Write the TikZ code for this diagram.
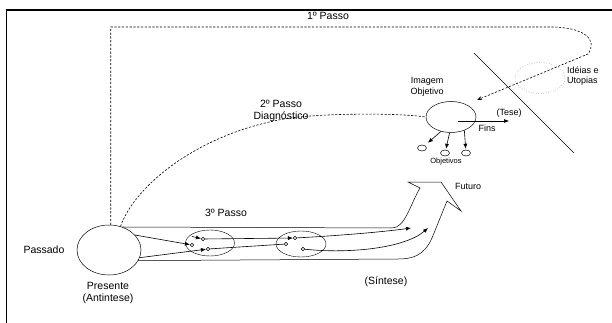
\documentclass[tikz,border=0pt]{standalone}
\usepackage{fontspec}
\setmainfont{Liberation Sans}
\usetikzlibrary{arrows.meta, shapes.geometric, positioning}

\begin{document}
\begin{tikzpicture}[
  x=1pt, y=-1pt, >=stealth,
  edgeline/.style={line width=1.6pt},
  passo/.style={draw, dash pattern=on 2.2pt off 1.6pt, line width=0.6pt},
  ell/.style={ellipse, draw, inner sep=0pt, line width=0.5pt},
  knot/.style={circle, draw, fill=white, inner sep=0pt, minimum size=3.6pt, line width=0.55pt},
  flow/.style={line width=0.6pt, -{Latex[length=5pt,width=4pt]}},
  lbl/.style={font=\fontsize{10.5}{12}\selectfont, inner sep=0pt, align=center},
  sml/.style={font=\fontsize{9}{10.5}\selectfont, inner sep=0pt, align=center}
  ]
  \useasboundingbox (0,0) rectangle (612,323);
  % frame
  \draw[edgeline] (6.5,323) -- (6.5,10) -- (612,10);

  % ellipses
  \node[ell, minimum width=64pt, minimum height=50pt] (pres) at (109,250) {};
  \node[ell, minimum width=50pt, minimum height=31pt] (img) at (451,117) {};
  \node[ell, draw=gray, dotted, minimum width=50pt, minimum height=31pt] (ideias) at (540,78) {};
  \node[ell, minimum width=49pt, minimum height=26pt, line width=0.4pt] (estA) at (210,243) {};
  \node[ell, minimum width=50pt, minimum height=26pt, line width=0.4pt] (estB) at (301,244) {};
  \node[ell, minimum width=9pt, minimum height=6pt] (o1) at (422,148) {};
  \node[ell, minimum width=9pt, minimum height=6pt] (o2) at (445,153) {};
  \node[ell, minimum width=9pt, minimum height=6pt] (o3) at (466,153) {};

  % labels
  \node[lbl] (p1) at (328,16) {1º Passo};
  \node[lbl] (p2) at (281,111) {2º Passo\\Diagnóstico};
  \node[lbl] (p3) at (226,213) {3º Passo};
  \node[lbl] (passado) at (44,250) {Passado};
  \node[lbl] (presl) at (108,293) {Presente\\(Antintese)};
  \node[lbl] (sint) at (386,282) {(Síntese)};
  \node[sml] (fut) at (468,186) {Futuro};
  \node[sml] (imgl) at (427,87) {Imagem\\Objetivo};
  \node[sml, align=left, anchor=west] (idl) at (567,76) {Idéias e\\Utopias};
  \node[sml] (tesel) at (509,113) {(Tese)};
  \node[sml] (finsl) at (487,128) {Fins};
  \node[font=\fontsize{7.5}{9}\selectfont, inner sep=0pt] (objl) at (446,162) {Objetivos};

  % barrier
  \coordinate (bar1) at (474,53);
  \coordinate (bar2) at (574,153);
  \draw[line width=0.6pt] (bar1) -- (bar2);

  % 1st and 2nd step
  \coordinate (utip) at (477,100);
  \draw[passo, -{Stealth[length=5pt,width=4pt]}] (pres.86) |- (550,27) .. controls (585,27) and (598,40) .. (588,54) -- (utip);
  \draw[passo] (pres.64) .. controls (135,185) and (200,132) .. (290,118) .. controls (330,113) and (400,113) .. (img.west);

  % image arrows
  \coordinate (fins0) at (458,121);
  \coordinate (tese) at (509,121);
  \draw[flow] (fins0) -- (tese);
  \draw[flow, shorten >=4pt] (img.235) -- (o1);
  \draw[flow, shorten >=1pt] (img.265) -- (o2);
  \draw[flow, shorten >=1pt] (img.-45) -- (o3);

  % big arrow
  \draw[line width=0.5pt] (pres.60) -- (392,228) .. controls (405,228) and (410,205) .. (420,188)
    -- (408,182) -- (441,182) -- (461,211) -- (447,201) -- (432,238)
    .. controls (424,256) and (412,259) .. (398,259) -- (pres.-20);

  % 3rd step
  \node[knot] (ca1) at (192,245) {};
  \node[knot] (ca2) at (203,239) {};
  \node[knot] (ca3) at (208,249) {};
  \node[knot] (cb1) at (295,238) {};
  \node[knot] (cb2) at (286,244) {};
  \node[knot] (cb3) at (303,249) {};
  \coordinate (stub) at (192,236.5);
  \coordinate (e1) at (411,228);
  \coordinate (e2) at (428,228);
  \draw[flow] (pres.30) -- (ca1);
  \draw[flow] (stub) -- (ca2);
  \draw[flow] (ca2) -- (cb1);
  \draw[flow] (cb1) .. controls (350,235) and (390,231) .. (e1);
  \draw[flow] (pres.-14) -- (ca3);
  \draw[line width=0.6pt] (ca3) -- (cb2);
  \draw[flow] (cb3) .. controls (350,254) and (405,248) .. (e2);
\end{tikzpicture}
\end{document}
